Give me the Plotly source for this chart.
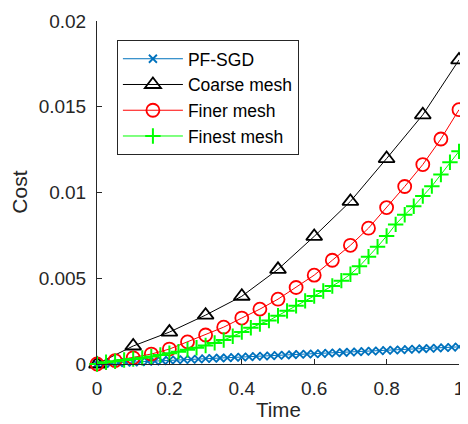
import plotly.graph_objects as go

# ---------------- data ----------------
t_pf = [i / 50 for i in range(51)]
pf_sgd = [0, 0.00003, 0.00005, 0.00007, 0.00009, 0.00011, 0.00013, 0.00015, 0.00017, 0.00019,
          0.00022, 0.00024, 0.00026, 0.00027, 0.00029, 0.00031, 0.00033, 0.00035, 0.00036, 0.00038,
          0.00040, 0.00042, 0.00044, 0.00046, 0.00048, 0.00050, 0.00052, 0.00054, 0.00056, 0.00058,
          0.00059, 0.00061, 0.00063, 0.00065, 0.00067, 0.00069, 0.00071, 0.00073, 0.00075, 0.00077,
          0.00079, 0.00081, 0.00083, 0.00085, 0.00087, 0.00089, 0.00091, 0.00093, 0.00095, 0.00097,
          0.00100]

t_coarse = [i / 10 for i in range(11)]
coarse = [0, 0.00105, 0.00186, 0.00285, 0.00395, 0.00552, 0.00744, 0.00948, 0.01198, 0.01453, 0.01773]

t_finer = [i / 20 for i in range(21)]
finer = [0, 0.0002, 0.00036, 0.00058, 0.00087, 0.00129, 0.00169, 0.00215, 0.00268, 0.0032,
         0.00378, 0.00446, 0.00518, 0.00605, 0.00692, 0.00792, 0.00912, 0.01035, 0.01163, 0.01312,
         0.01483]

t_finest = [i / 40 for i in range(41)]
finest = [0, 0.0001, 0.00016, 0.00023, 0.00029, 0.00036, 0.00044, 0.00053, 0.00063, 0.00072,
          0.00083, 0.00095, 0.00108, 0.00123, 0.00140, 0.00162, 0.00187, 0.00211, 0.00233, 0.00254,
          0.00281, 0.0031, 0.00339, 0.00368, 0.00396, 0.00426, 0.00455, 0.00486, 0.00523, 0.00570,
          0.00626, 0.00684, 0.00746, 0.00814, 0.0087, 0.0092, 0.00979, 0.01037, 0.01105, 0.01176,
          0.0124]

x_ticks = [0, 0.2, 0.4, 0.6, 0.8, 1]
x_tick_labels = ["0", "0.2", "0.4", "0.6", "0.8", "1"]
y_ticks = [0, 0.005, 0.01, 0.015, 0.02]
y_tick_labels = ["0", "0.005", "0.01", "0.015", "0.02"]
x_title = "Time"
y_title = "Cost"

# ---------------- figure ----------------
FONT = "Liberation Sans, Arial, Helvetica, sans-serif"
fig = go.Figure()

fig.add_trace(go.Scatter(x=t_pf, y=pf_sgd, name="PF-SGD", mode="lines+markers",
                         line=dict(color="#0072BD", width=1),
                         marker=dict(symbol="x-thin-open", size=8, color="#0072BD",
                                     line=dict(color="#0072BD", width=1.8)),
                         cliponaxis=False))
fig.add_trace(go.Scatter(x=t_coarse, y=coarse, name="Coarse mesh", mode="lines+markers",
                         line=dict(color="black", width=1),
                         marker=dict(symbol="triangle-up-open", size=14, color="black",
                                     line=dict(color="black", width=1.8)),
                         cliponaxis=False))
fig.add_trace(go.Scatter(x=t_finer, y=finer, name="Finer mesh", mode="lines+markers",
                         line=dict(color="#FF0000", width=1),
                         marker=dict(symbol="circle-open", size=13, color="#FF0000",
                                     line=dict(color="#FF0000", width=1.8)),
                         cliponaxis=False))
fig.add_trace(go.Scatter(x=t_finest, y=finest, name="Finest mesh", mode="lines+markers",
                         line=dict(color="#00FF00", width=1),
                         marker=dict(symbol="cross-thin-open", size=11, color="#00FF00",
                                     line=dict(color="#00FF00", width=2)),
                         cliponaxis=False))

axis_common = dict(showline=True, linecolor="#262626", linewidth=1, mirror=False,
                   ticks="inside", ticklen=5, tickwidth=1, tickcolor="#262626",
                   showgrid=False, zeroline=False,
                   tickfont=dict(family=FONT, size=19, color="#262626"))

fig.update_xaxes(range=[0, 1], tickvals=x_ticks, ticktext=x_tick_labels,
                 ticklabelstandoff=7, **axis_common)
fig.update_yaxes(range=[0, 0.02], tickvals=y_ticks, ticktext=y_tick_labels,
                 ticklabelstandoff=6, **axis_common)

fig.add_annotation(text=x_title, x=0.5, y=-0.132, xref="paper", yref="paper",
                   xanchor="center", yanchor="middle", showarrow=False,
                   font=dict(family=FONT, size=20.5, color="#262626"))
fig.add_annotation(text=y_title, x=-0.215, y=0.5, xref="paper", yref="paper",
                   xanchor="center", yanchor="middle", showarrow=False, textangle=-90,
                   font=dict(family=FONT, size=21, color="#262626"))

# page body has an 8px default margin: figure is 8px smaller and offsets compensated
fig.update_layout(
    width=460, height=416,
    margin=dict(l=89, r=9, t=13, b=60, autoexpand=False),
    paper_bgcolor="white", plot_bgcolor="white",
    font=dict(family=FONT, color="#262626"),
    showlegend=True,
    legend=dict(x=0.055, y=0.945, xanchor="left", yanchor="top",
                bgcolor="white", bordercolor="#262626", borderwidth=1,
                font=dict(family=FONT, size=17.5, color="black"),
                itemwidth=60, tracegroupgap=0),
)

fig.write_html("out.html")
